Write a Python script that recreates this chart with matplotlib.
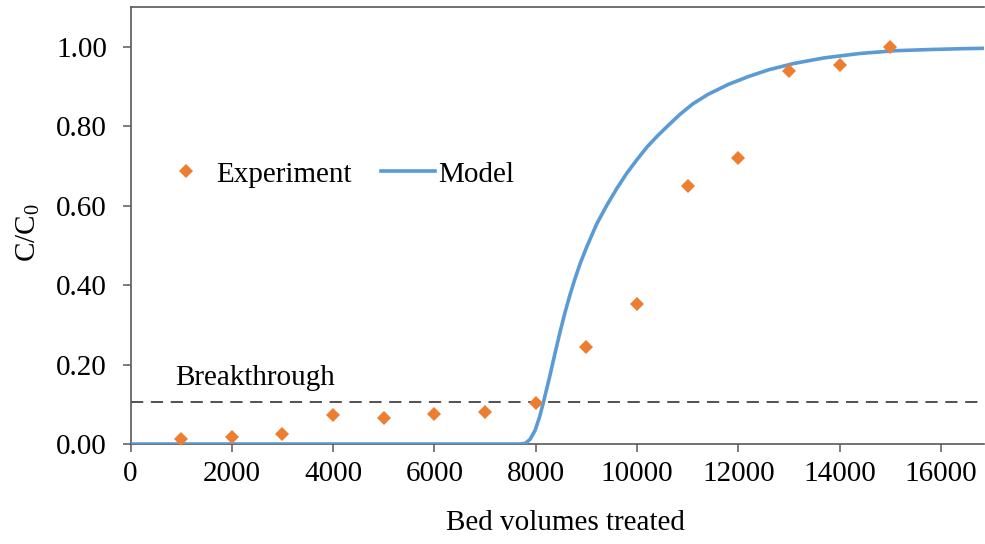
import numpy as np
import matplotlib
matplotlib.use('Agg')
import matplotlib.pyplot as plt
from matplotlib.lines import Line2D

# Experimental breakthrough data
exp_bv = [1000, 2000, 3000, 4000, 5000, 6000, 7000, 8000,
          9000, 10000, 11000, 12000, 13000, 14000, 15000]
exp_c = [0.012, 0.018, 0.024, 0.072, 0.065, 0.075, 0.080, 0.104,
         0.243, 0.352, 0.649, 0.720, 0.939, 0.953, 1.000]

# Model curve
model_bv = [0, 7700, 7800, 7890, 7990, 8080, 8150, 8280, 8380, 8480, 8580,
            8680, 8780, 8880, 9000, 9200, 9400, 9600, 9800, 10000, 10200,
            10400, 10600, 10850, 11100, 11400, 11800, 12200, 12600, 13100,
            13700, 14400, 15100, 15800, 16400, 16850]
model_c = [0.0, 0.0, 0.002, 0.012, 0.035, 0.070, 0.104, 0.172, 0.228, 0.282,
           0.332, 0.377, 0.418, 0.455, 0.494, 0.553, 0.600, 0.643, 0.682,
           0.716, 0.748, 0.775, 0.800, 0.830, 0.856, 0.880, 0.905, 0.925,
           0.942, 0.958, 0.972, 0.983, 0.990, 0.993, 0.995, 0.996]

breakthrough = 0.105
x_ticks = np.arange(0, 16001, 2000)
y_ticks = [0.0, 0.2, 0.4, 0.6, 0.8, 1.0]

plt.rcParams['font.family'] = ['Liberation Serif', 'DejaVu Serif']
plt.rcParams['mathtext.fontset'] = 'custom'
plt.rcParams['mathtext.rm'] = 'Liberation Serif'
plt.rcParams['font.size'] = 21

ORANGE = '#ED7D31'
BLUE = '#5B9BD5'
AXIS = '#595959'

fig = plt.figure(figsize=(9.85, 5.44), dpi=100)
ax = fig.add_axes([130.5 / 985, 1 - 444 / 544, (984 - 130.5) / 985, (444 - 7) / 544])

ax.plot(model_bv, model_c, color=BLUE, linewidth=2.6, zorder=3,
        solid_capstyle='round', solid_joinstyle='round')
ax.plot(exp_bv, exp_c, linestyle='none', marker='D', markersize=7.2,
        color=ORANGE, markeredgewidth=0, zorder=4)
ax.axhline(breakthrough, color='#222222', linewidth=1.1,
           linestyle=(0, (8, 5)), zorder=2)
ax.text(880, 0.148, 'Breakthrough', va='baseline', ha='left')

ax.set_xlim(0, 16850)
ax.set_ylim(0, 1.1)
ax.set_xticks(x_ticks)
ax.set_yticks(y_ticks)
ax.set_yticklabels([f'{v:.2f}' for v in y_ticks])

for side in ['left', 'bottom', 'top', 'right']:
    ax.spines[side].set_color(AXIS)
    ax.spines[side].set_linewidth(1.2)
ax.spines['right'].set_visible(False)

ax.tick_params(axis='both', direction='out', length=6, width=1.1,
               color=AXIS, labelcolor='black')
ax.tick_params(axis='y', pad=11)
ax.tick_params(axis='x', pad=6)

ax.set_xlabel('Bed volumes treated')
ax.xaxis.set_label_coords(0.510, -0.150)
ax.set_ylabel('C/C$_\\mathregular{0}$')
ax.yaxis.set_label_coords(-0.104, 0.483)

handles = [
    Line2D([], [], linestyle='none', marker='D', markersize=7.2,
           color=ORANGE, markeredgewidth=0, label='Experiment'),
    Line2D([], [], color=BLUE, linewidth=2.6, label='Model'),
]
ax.legend(handles=handles, loc='center left', bbox_to_anchor=(0.034, 0.617),
          ncol=2, frameon=False, borderpad=0, borderaxespad=0,
          handlelength=1.85, handletextpad=0.1, columnspacing=1.0)

fig.savefig('out.png', dpi=100)
